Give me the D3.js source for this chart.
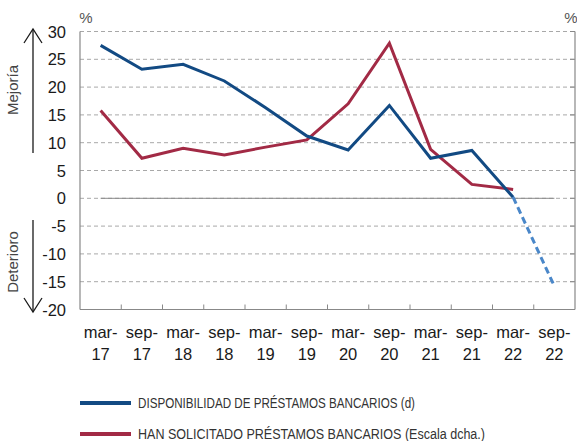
<!DOCTYPE html>
<html>
<head>
<meta charset="utf-8">
<script src="https://cdn.jsdelivr.net/npm/d3@7"></script>
<style>
  body { margin: 0; background: #fff; }
  text { font-family: "Liberation Sans", Arial, sans-serif; }
</style>
</head>
<body>
<svg id="chart" width="577" height="441"></svg>
<script>
// periods on the x axis
const periods = ["mar-17", "sep-17", "mar-18", "sep-18", "mar-19", "sep-19",
                 "mar-20", "sep-20", "mar-21", "sep-21", "mar-22", "sep-22"];
// disponibilidad (observed, then forecast)
const disponibilidad = [27.5, 23.2, 24.1, 21.1, 16.3, 11.2, 8.7, 16.7, 7.2, 8.6, 0.2, null];
const disponibilidadPrev = [null, null, null, null, null, null, null, null, null, null, 0.2, -15.8];
// han solicitado
const solicitado = [15.8, 7.2, 9.0, 7.8, 9.2, 10.5, 17.0, 27.9, 8.8, 2.5, 1.6, null];
const yTicks = [30, 25, 20, 15, 10, 5, 0, -5, -10, -15, -20];

const svg = d3.select("#chart");
const plotL = 80, plotR = 575, plotT = 31.5, plotB = 309.5;

const x = d3.scaleBand().domain(periods).range([plotL, plotR]);
const y = d3.scaleLinear().domain([-20, 30]).range([plotB, plotT]);
const cx = d => x(d) + x.bandwidth() / 2;

// grid lines
svg.append("g").selectAll("line")
  .data(yTicks.filter(v => v !== -20))
  .enter().append("line")
  .attr("x1", plotL).attr("x2", plotR)
  .attr("y1", d => y(d)).attr("y2", d => y(d))
  .attr("stroke", "#a8a8a8").attr("stroke-width", 1)
  .attr("stroke-dasharray", "4,3");

// solid zero line between first and last point
svg.append("line")
  .attr("x1", cx(periods[0])).attr("x2", cx(periods[periods.length - 1]))
  .attr("y1", y(0)).attr("y2", y(0))
  .attr("stroke", "#8a8a8a").attr("stroke-width", 1);

// right axis ticks (inward)
svg.append("g").selectAll("line")
  .data(yTicks)
  .enter().append("line")
  .attr("x1", plotR - 5).attr("x2", plotR)
  .attr("y1", d => y(d)).attr("y2", d => y(d))
  .attr("stroke", "#888");

// axes frame
svg.append("line").attr("x1", plotL).attr("x2", plotL).attr("y1", plotT).attr("y2", plotB)
  .attr("stroke", "#888").attr("stroke-width", 1.2);
svg.append("line").attr("x1", plotR).attr("x2", plotR).attr("y1", plotT).attr("y2", plotB)
  .attr("stroke", "#888").attr("stroke-width", 1.2);
svg.append("line").attr("x1", plotL).attr("x2", plotR).attr("y1", plotB).attr("y2", plotB)
  .attr("stroke", "#888").attr("stroke-width", 1.2);

// x ticks at band boundaries, pointing inward
svg.append("g").selectAll("line")
  .data(periods.slice(1))
  .enter().append("line")
  .attr("x1", d => x(d)).attr("x2", d => x(d))
  .attr("y1", plotB).attr("y2", plotB - 5)
  .attr("stroke", "#888");

// y tick labels
svg.append("g").selectAll("text")
  .data(yTicks)
  .enter().append("text")
  .attr("x", 66).attr("y", d => y(d) + 6)
  .attr("text-anchor", "end")
  .attr("font-size", 16.5).attr("fill", "#1a1a1a")
  .text(d => d);

// x labels, two lines
const xl = svg.append("g").selectAll("text")
  .data(periods)
  .enter().append("text")
  .attr("text-anchor", "middle")
  .attr("font-size", 16.5).attr("fill", "#1a1a1a");
xl.append("tspan").attr("x", d => cx(d)).attr("y", 338).text(d => d.split("-")[0] + "-");
xl.append("tspan").attr("x", d => cx(d)).attr("y", 360).text(d => d.split("-")[1]);

// % units
svg.append("text").attr("x", 86).attr("y", 23).attr("font-size", 15).attr("fill", "#555")
  .attr("text-anchor", "middle").text("%");
svg.append("text").attr("x", 571).attr("y", 23).attr("font-size", 15).attr("fill", "#555")
  .attr("text-anchor", "middle").text("%");

// Mejoria / Deterioro arrows
const arrowCol = "#1a1a1a";
svg.append("line").attr("x1", 33).attr("x2", 33).attr("y1", 29).attr("y2", 153)
  .attr("stroke", arrowCol).attr("stroke-width", 1.3);
svg.append("path").attr("d", "M24,43 L33,29 L42,43").attr("fill", "none")
  .attr("stroke", arrowCol).attr("stroke-width", 1.3);
svg.append("line").attr("x1", 33).attr("x2", 33).attr("y1", 220).attr("y2", 312)
  .attr("stroke", arrowCol).attr("stroke-width", 1.3);
svg.append("path").attr("d", "M24,298 L33,312 L42,298").attr("fill", "none")
  .attr("stroke", arrowCol).attr("stroke-width", 1.3);

svg.append("text").attr("transform", "translate(18,90) rotate(-90)")
  .attr("text-anchor", "middle").attr("font-size", 15).attr("fill", "#444").text("Mejoría");
svg.append("text").attr("transform", "translate(18,262) rotate(-90)")
  .attr("text-anchor", "middle").attr("font-size", 15).attr("fill", "#444").text("Deterioro");

// lines
const line = d3.line()
  .defined(d => d.v !== null)
  .x(d => cx(d.p))
  .y(d => y(d.v));
const toPts = arr => arr.map((v, i) => ({ p: periods[i], v: v }));

svg.append("path").datum(toPts(solicitado)).attr("d", line)
  .attr("fill", "none").attr("stroke", "#a22a45").attr("stroke-width", 3);
svg.append("path").datum(toPts(disponibilidad)).attr("d", line)
  .attr("fill", "none").attr("stroke", "#124a83").attr("stroke-width", 3);
svg.append("path").datum(toPts(disponibilidadPrev)).attr("d", line)
  .attr("fill", "none").attr("stroke", "#4a87c9").attr("stroke-width", 3)
  .attr("stroke-dasharray", "7,4");

// legend
const legend = [
  { label: "DISPONIBILIDAD DE PRÉSTAMOS BANCARIOS (d)", color: "#124a83", y: 403 },
  { label: "HAN SOLICITADO PRÉSTAMOS BANCARIOS (Escala dcha.)", color: "#a22a45", y: 434 }
];
const lg = svg.append("g").selectAll("g").data(legend).enter().append("g");
lg.append("line").attr("x1", 80).attr("x2", 131)
  .attr("y1", d => d.y).attr("y2", d => d.y)
  .attr("stroke", d => d.color).attr("stroke-width", 4);
lg.append("text").attr("x", 138).attr("y", d => d.y + 5)
  .attr("font-size", 14).attr("fill", "#333")
  .attr("textLength", (d, i) => i === 0 ? 277 : 347)
  .attr("lengthAdjust", "spacingAndGlyphs")
  .text(d => d.label);
</script>
</body>
</html>
